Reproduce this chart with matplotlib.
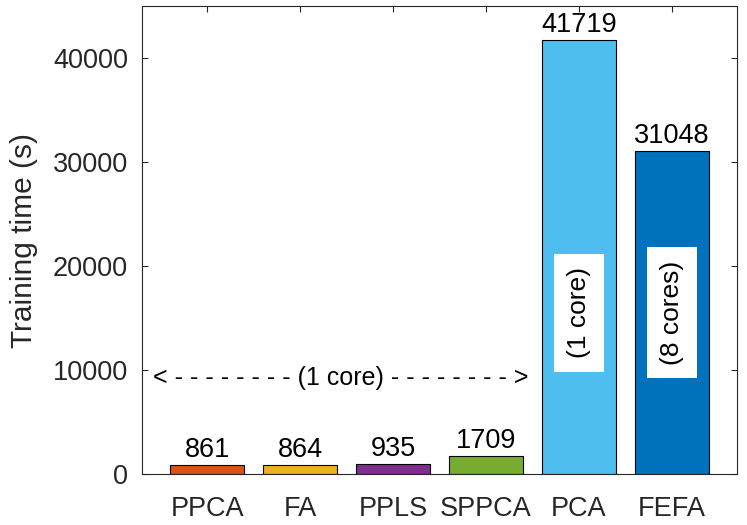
import matplotlib
matplotlib.use("Agg")
import matplotlib.pyplot as plt

categories = ["PPCA", "FA", "PPLS", "SPPCA", "PCA", "FEFA"]
times = [861, 864, 935, 1709, 41719, 31048]
colors = ["#D95319", "#EDB120", "#7E2F8E", "#77AC30", "#4DBEEE", "#0072BD"]
yticks = [0, 10000, 20000, 30000, 40000]
inner_labels = {"PCA": "(1 core)", "FEFA": "(8 cores)"}
arrow_label = "< - - - - - - - - (1 core) - - - - - - - - >"

plt.rcParams["font.family"] = ["Liberation Sans", "DejaVu Sans"]

fig = plt.figure(figsize=(7.47, 5.25), dpi=100)
ax = fig.add_axes([0.1901, 0.0971, 0.9866 - 0.1901, 0.9886 - 0.0971])

x = list(range(1, len(categories) + 1))
ax.bar(x, times, width=0.8, color=colors, edgecolor="black", linewidth=0.8, zorder=2)

for xi, v in zip(x, times):
    ax.annotate(f"{v}", (xi, v), xytext=(0, 6), textcoords="offset points",
                ha="center", va="baseline", fontsize=19.5, color="black")

for xi, cat in zip(x, categories):
    if cat in inner_labels:
        ax.text(xi, 15500, inner_labels[cat], rotation=90, ha="center", va="center",
                fontsize=19, color="black", zorder=3,
                bbox=dict(boxstyle="square,pad=0.5", facecolor="white", edgecolor="none"))

ax.text(2.44, 9200, arrow_label, ha="center", va="center", fontsize=18, color="black", zorder=3)

ax.set_xlim(0.3, 6.7)
ax.set_ylim(0, 45000)
ax.set_xticks(x)
ax.set_xticklabels(categories)
ax.set_yticks(yticks)
ax.set_yticklabels([str(t) for t in yticks])

ax.tick_params(axis="both", which="both", direction="in", length=4.5, width=0.8,
               colors="#262626", labelsize=19.5, top=True, right=True)
ax.tick_params(axis="x", pad=15.5)
ax.tick_params(axis="y", pad=10)
for s in ax.spines.values():
    s.set_color("#262626")
    s.set_linewidth(0.8)

ax.set_ylabel("Training time (s)", fontsize=21.5, color="#262626")
ax.yaxis.set_label_coords(-0.175, 0.5)

fig.savefig("out.png", dpi=100)
